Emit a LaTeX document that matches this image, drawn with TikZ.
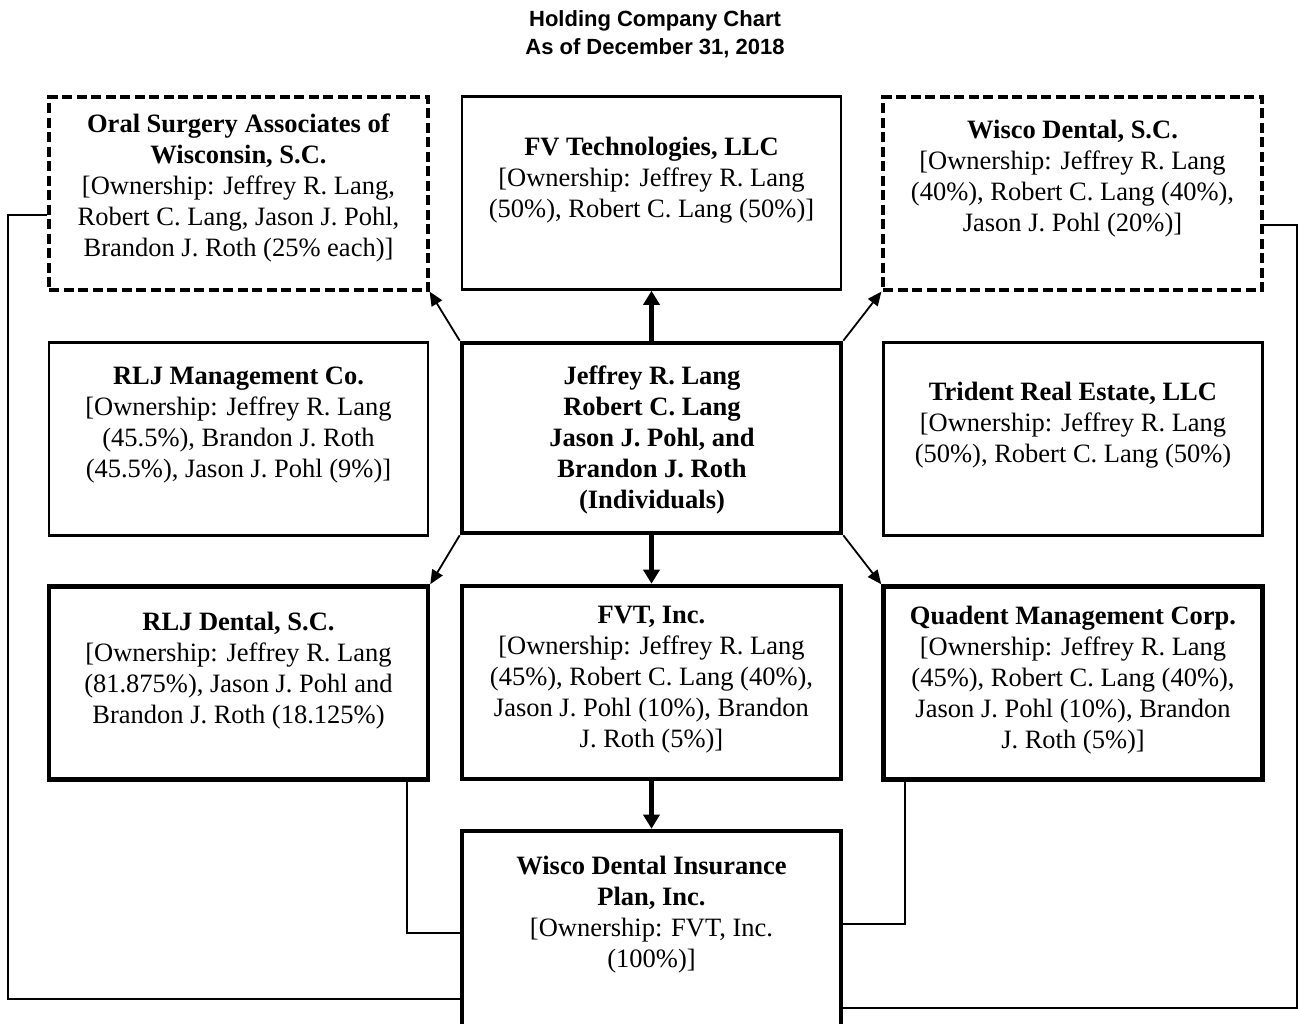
\documentclass[tikz,border=0pt]{standalone}
\usepackage{fontspec}
\setmainfont{Liberation Serif}
\newfontfamily\titlefont{Liberation Sans}
\usetikzlibrary{arrows.meta}

\begin{document}
\begin{tikzpicture}[x=1pt,y=-1pt,
            box/.style={draw,minimum width=379pt,minimum height=193pt,inner sep=0pt},
            thinbox/.style={box,line width=2.6pt},
            heavybox/.style={box,line width=4.6pt},
            dashbox/.style={box,line width=3.2pt,dash pattern=on 10pt off 4.5pt},
            txt/.style={align=center,inner sep=0pt,font=\fontsize{26.5}{31}\selectfont},
            link/.style={line width=2.2pt},
            lightarrow/.style={line width=1.8pt,-{Triangle[length=14pt,width=12pt]}},
            heavyarrow/.style={line width=4.4pt,-{Triangle[length=14pt,width=16pt]}}]
            \useasboundingbox (0,0) rectangle (1298,1023);
            \node[align=center,font=\titlefont\bfseries\fontsize{22}{28}\selectfont] (title) at (655,34) {Holding Company Chart\\As of December 31, 2018};
            \node[dashbox] (osa) at (238.5,193.5) {};
            \node[thinbox] (fv) at (651.5,193) {};
            \node[dashbox] (wd) at (1072.5,193.5) {};
            \node[thinbox] (rljm) at (238.5,439) {};
            \node[heavybox,minimum height=190pt] (ind) at (651.5,438) {};
            \node[thinbox] (tre) at (1073,439) {};
            \node[heavybox] (rljd) at (238.5,683) {};
            \node[heavybox] (fvt) at (651.5,682.5) {};
            \node[heavybox] (qmc) at (1073,683) {};
            \node[heavybox,minimum height=210pt] (wdip) at (651.5,936) {};
            \node[txt] (osa-t) at (238.5,187.5) {\textbf{Oral Surgery Associates of}\\\textbf{Wisconsin, S.C.}\\{[}Ownership: Jeffrey R. Lang,\\Robert C. Lang, Jason J. Pohl,\\Brandon J. Roth (25\% each)]};
            \node[txt] (fv-t) at (651.5,180) {\textbf{FV Technologies, LLC}\\{[}Ownership: Jeffrey R. Lang\\(50\%), Robert C. Lang (50\%)]};
            \node[txt] (wd-t) at (1072.5,179) {\textbf{Wisco Dental, S.C.}\\{[}Ownership: Jeffrey R. Lang\\(40\%), Robert C. Lang (40\%),\\Jason J. Pohl (20\%)]};
            \node[txt] (rljm-t) at (238.5,425) {\textbf{RLJ Management Co.}\\{[}Ownership: Jeffrey R. Lang\\(45.5\%), Brandon J. Roth\\(45.5\%), Jason J. Pohl (9\%)]};
            \node[txt] (ind-t) at (652,440) {\textbf{Jeffrey R. Lang}\\\textbf{Robert C. Lang}\\\textbf{Jason J. Pohl, and}\\\textbf{Brandon J. Roth}\\\textbf{(Individuals)}};
            \node[txt] (tre-t) at (1073,425) {\textbf{Trident Real Estate, LLC}\\{[}Ownership: Jeffrey R. Lang\\(50\%), Robert C. Lang (50\%)};
            \node[txt] (rljd-t) at (238.5,671) {\textbf{RLJ Dental, S.C.}\\{[}Ownership: Jeffrey R. Lang\\(81.875\%), Jason J. Pohl and\\Brandon J. Roth (18.125\%)};
            \node[txt] (fvt-t) at (651.5,680) {\textbf{FVT, Inc.}\\{[}Ownership: Jeffrey R. Lang\\(45\%), Robert C. Lang (40\%),\\Jason J. Pohl (10\%), Brandon\\J. Roth (5\%)]};
            \node[txt] (qmc-t) at (1073,680) {\textbf{Quadent Management Corp.}\\{[}Ownership: Jeffrey R. Lang\\(45\%), Robert C. Lang (40\%),\\Jason J. Pohl (10\%), Brandon\\J. Roth (5\%)]};
            \node[txt] (wdip-t) at (651.5,915) {\textbf{Wisco Dental Insurance}\\\textbf{Plan, Inc.}\\{[}Ownership: FVT, Inc.\\(100\%)]};
            \draw[heavyarrow] (ind.north) -- (fv.south);
            \draw[lightarrow] (ind.north west) -- (osa.south east);
            \draw[lightarrow] (ind.north east) -- (wd.south west);
            \draw[lightarrow] (ind.south west) -- (rljd.north east);
            \draw[heavyarrow] (ind.south) -- (fvt.north);
            \draw[lightarrow] (ind.south east) -- (qmc.north west);
            \draw[heavyarrow] (fvt.south) -- (wdip.north);
            \draw[link] ([xshift=-23pt]rljd.south east) |- (wdip.west |- 0,933);
            \draw[link] ([xshift=24pt]qmc.south west) |- (wdip.east |- 0,924);
            \coordinate (leftrail) at (8,999);
            \coordinate (rightrail) at (1297.5,1008);
            \draw[link] (osa.west |- 0,215) -| (leftrail) -- (wdip.west |- leftrail);
            \draw[link] (wd.east |- 0,225) -| (rightrail) -- (wdip.east |- rightrail);
        \end{tikzpicture}
\end{document}
